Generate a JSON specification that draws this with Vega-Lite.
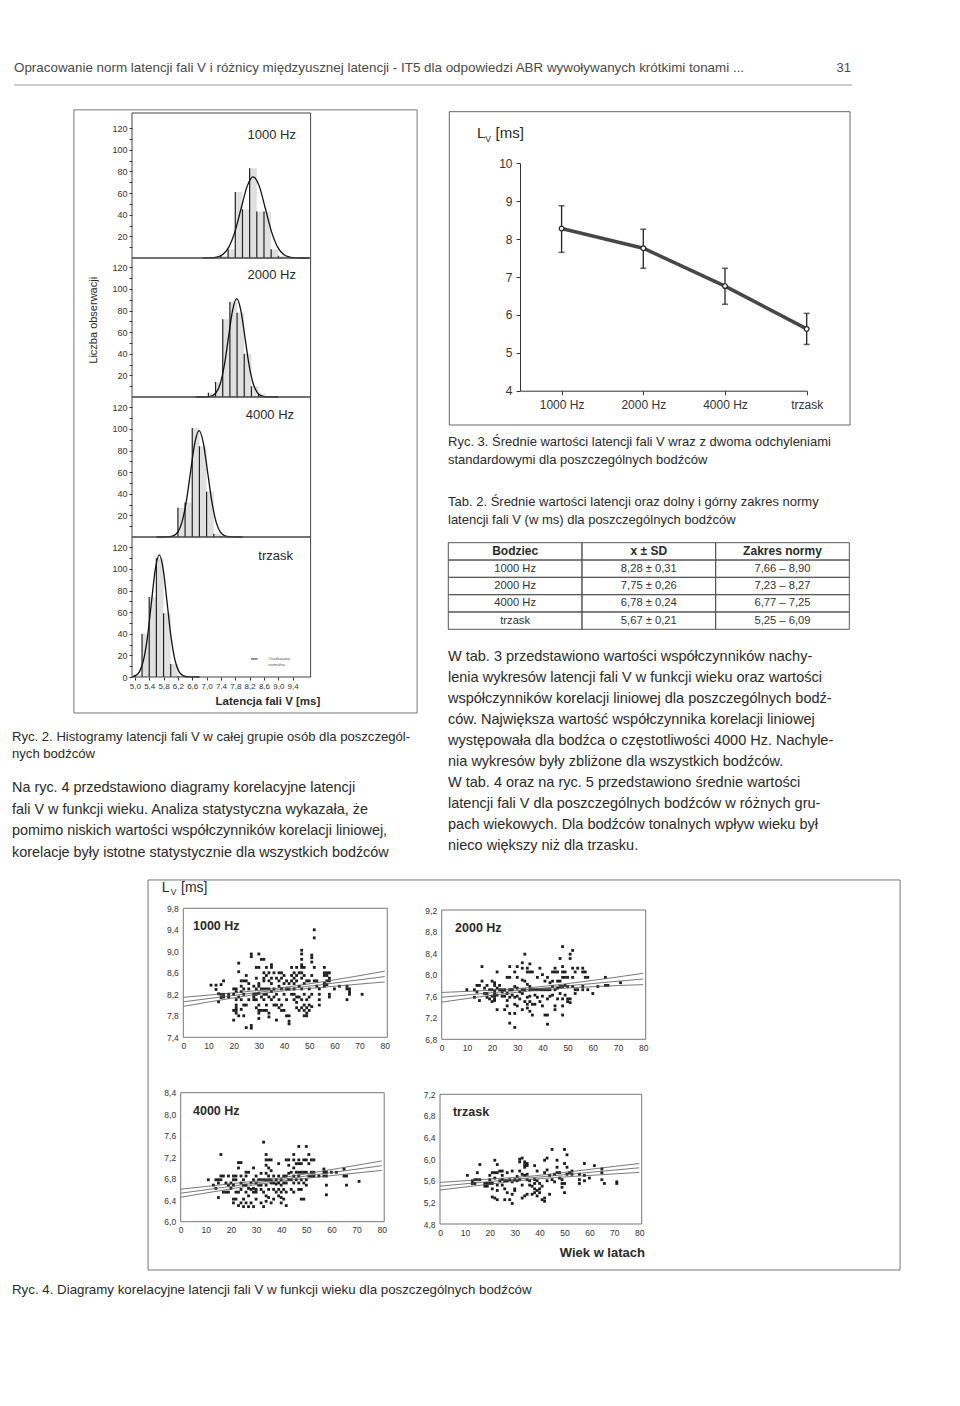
{
"$schema":"https://vega.github.io/schema/vega-lite/v6.json",
"width":960,"height":1406,"autosize":{"type":"none"},"padding":0,"background":"#ffffff",
"config":{"view":{"stroke":null},"axis":{"grid":false,"labelFont":"Liberation Sans","labelColor":"#333333","domainColor":"#333333","tickColor":"#333333","labelOverlap":false,"labelFlush":false},"text":{"font":"Liberation Sans","color":"#2a2a2a"}},
"datasets":{
"text":[
{"block":"header","line":1,"text":"Opracowanie norm latencji fali V i różnicy międzyusznej latencji - IT5 dla odpowiedzi ABR wywoływanych krótkimi tonami ..."},
{"block":"page","line":1,"text":"31"},
{"block":"cap2","line":1,"text":"Ryc. 2. Histogramy latencji fali V w całej grupie osób dla poszczegól-"},
{"block":"cap2","line":2,"text":"nych bodźców"},
{"block":"paraL","line":1,"text":"       Na ryc. 4 przedstawiono diagramy korelacyjne latencji"},
{"block":"paraL","line":2,"text":"fali V w funkcji wieku. Analiza statystyczna wykazała, że"},
{"block":"paraL","line":3,"text":"pomimo niskich wartości współczynników korelacji liniowej,"},
{"block":"paraL","line":4,"text":"korelacje były istotne statystycznie dla wszystkich bodźców"},
{"block":"cap3","line":1,"text":"Ryc. 3. Średnie wartości latencji fali V wraz z dwoma odchyleniami"},
{"block":"cap3","line":2,"text":"standardowymi dla poszczególnych bodźców"},
{"block":"tab2","line":1,"text":"Tab. 2. Średnie wartości latencji oraz dolny i górny zakres normy"},
{"block":"tab2","line":2,"text":"latencji fali V (w ms) dla poszczególnych bodźców"},
{"block":"paraR","line":1,"text":" W tab. 3 przedstawiono wartości współczynników nachy-"},
{"block":"paraR","line":2,"text":"lenia wykresów latencji fali V w funkcji wieku oraz wartości"},
{"block":"paraR","line":3,"text":"współczynników korelacji liniowej dla poszczególnych bodź-"},
{"block":"paraR","line":4,"text":"ców. Największa wartość współczynnika korelacji liniowej"},
{"block":"paraR","line":5,"text":"występowała dla bodźca o częstotliwości 4000 Hz. Nachyle-"},
{"block":"paraR","line":6,"text":"nia wykresów były zbliżone dla wszystkich bodźców."},
{"block":"paraR","line":7,"text":" W tab. 4 oraz na ryc. 5 przedstawiono średnie wartości"},
{"block":"paraR","line":8,"text":"latencji fali V dla poszczególnych bodźców w różnych gru-"},
{"block":"paraR","line":9,"text":"pach wiekowych. Dla bodźców tonalnych wpływ wieku był"},
{"block":"paraR","line":10,"text":"nieco większy niż dla trzasku."},
{"block":"cap4","line":1,"text":"Ryc. 4. Diagramy korelacyjne latencji fali V w funkcji wieku dla poszczególnych bodźców"}
],
"h1000":[{"lat":7.4,"lat2":7.6,"n":2},{"lat":7.6,"lat2":7.8,"n":8},{"lat":7.8,"lat2":8.0,"n":61},{"lat":8.0,"lat2":8.2,"n":45},{"lat":8.2,"lat2":8.4,"n":83},{"lat":8.4,"lat2":8.6,"n":43},{"lat":8.6,"lat2":8.8,"n":43},{"lat":8.8,"lat2":9.0,"n":8},{"lat":9.0,"lat2":9.2,"n":2}],
"h2000":[{"lat":6.65,"lat2":6.85,"n":1},{"lat":7.05,"lat2":7.25,"n":4},{"lat":7.25,"lat2":7.45,"n":14},{"lat":7.45,"lat2":7.65,"n":72},{"lat":7.65,"lat2":7.85,"n":88},{"lat":7.85,"lat2":8.05,"n":78},{"lat":8.05,"lat2":8.25,"n":40},{"lat":8.25,"lat2":8.45,"n":10},{"lat":8.45,"lat2":8.65,"n":3}],
"h4000":[{"lat":6.0,"lat2":6.2,"n":1},{"lat":6.2,"lat2":6.4,"n":27},{"lat":6.4,"lat2":6.6,"n":32},{"lat":6.6,"lat2":6.8,"n":101},{"lat":6.8,"lat2":7.0,"n":84},{"lat":7.0,"lat2":7.2,"n":42},{"lat":7.2,"lat2":7.4,"n":3},{"lat":7.4,"lat2":7.6,"n":1}],
"htrzask":[{"lat":5.0,"lat2":5.2,"n":2},{"lat":5.2,"lat2":5.4,"n":40},{"lat":5.4,"lat2":5.6,"n":74},{"lat":5.6,"lat2":5.8,"n":110},{"lat":5.8,"lat2":6.0,"n":59},{"lat":6.0,"lat2":6.2,"n":12},{"lat":6.2,"lat2":6.4,"n":1}],
"c1000":[{"lat":6.9,"n":0},{"lat":6.94,"n":0.02},{"lat":7.11,"n":0.17},{"lat":7.28,"n":0.83},{"lat":7.45,"n":3.3},{"lat":7.62,"n":10.1},{"lat":7.79,"n":24.4},{"lat":7.96,"n":45.5},{"lat":8.13,"n":66.2},{"lat":8.30,"n":75},{"lat":8.47,"n":66.2},{"lat":8.64,"n":45.5},{"lat":8.81,"n":24.4},{"lat":8.98,"n":10.1},{"lat":9.15,"n":3.3},{"lat":9.32,"n":0.83},{"lat":9.49,"n":0.17},{"lat":9.66,"n":0.02},{"lat":9.85,"n":0}],
"c2000":[{"lat":6.7,"n":0},{"lat":6.92,"n":0.03},{"lat":7.035,"n":0.2},{"lat":7.15,"n":1.0},{"lat":7.265,"n":4.0},{"lat":7.38,"n":12.3},{"lat":7.495,"n":29.5},{"lat":7.61,"n":55.2},{"lat":7.725,"n":80.3},{"lat":7.84,"n":91},{"lat":7.955,"n":80.3},{"lat":8.07,"n":55.2},{"lat":8.185,"n":29.5},{"lat":8.30,"n":12.3},{"lat":8.415,"n":4.0},{"lat":8.53,"n":1.0},{"lat":8.645,"n":0.2},{"lat":8.76,"n":0.03},{"lat":9.0,"n":0}],
"c4000":[{"lat":5.6,"n":0},{"lat":5.83,"n":0.03},{"lat":5.95,"n":0.22},{"lat":6.07,"n":1.1},{"lat":6.19,"n":4.3},{"lat":6.31,"n":13.3},{"lat":6.43,"n":32.0},{"lat":6.55,"n":59.7},{"lat":6.67,"n":86.9},{"lat":6.79,"n":98.5},{"lat":6.91,"n":86.9},{"lat":7.03,"n":59.7},{"lat":7.15,"n":32.0},{"lat":7.27,"n":13.3},{"lat":7.39,"n":4.3},{"lat":7.51,"n":1.1},{"lat":7.63,"n":0.22},{"lat":7.75,"n":0.03},{"lat":8.0,"n":0}],
"ctrzask":[{"lat":4.92,"n":0.2},{"lat":5.02,"n":1.25},{"lat":5.13,"n":5.0},{"lat":5.24,"n":15.3},{"lat":5.35,"n":36.7},{"lat":5.46,"n":68.5},{"lat":5.57,"n":99.7},{"lat":5.68,"n":113},{"lat":5.79,"n":99.7},{"lat":5.90,"n":68.5},{"lat":6.01,"n":36.7},{"lat":6.12,"n":15.3},{"lat":6.23,"n":5.0},{"lat":6.34,"n":1.25},{"lat":6.45,"n":0.25},{"lat":6.56,"n":0.03},{"lat":6.8,"n":0}],
"latency":[{"bodziec":"1000 Hz","mean":8.28,"lo":7.65,"hi":8.88},{"bodziec":"2000 Hz","mean":7.76,"lo":7.23,"hi":8.26},{"bodziec":"4000 Hz","mean":6.76,"lo":6.28,"hi":7.23},{"bodziec":"trzask","mean":5.63,"lo":5.22,"hi":6.04}],
"table":[
{"row":0,"col":"c1","text":"Bodziec"},{"row":0,"col":"c2","text":"x ± SD"},{"row":0,"col":"c3","text":"Zakres normy"},
{"row":1,"col":"c1","text":"1000 Hz"},{"row":1,"col":"c2","text":"8,28 ± 0,31"},{"row":1,"col":"c3","text":"7,66 – 8,90"},
{"row":2,"col":"c1","text":"2000 Hz"},{"row":2,"col":"c2","text":"7,75 ± 0,26"},{"row":2,"col":"c3","text":"7,23 – 8,27"},
{"row":3,"col":"c1","text":"4000 Hz"},{"row":3,"col":"c2","text":"6,78 ± 0,24"},{"row":3,"col":"c3","text":"6,77 – 7,25"},
{"row":4,"col":"c1","text":"trzask"},{"row":4,"col":"c2","text":"5,67 ± 0,21"},{"row":4,"col":"c3","text":"5,25 – 6,09"}
],
"f1000":[{"band":"mid","age":0,"lat":8.06},{"band":"mid","age":20,"lat":8.18},{"band":"mid","age":37,"lat":8.28},{"band":"mid","age":55,"lat":8.38},{"band":"mid","age":80,"lat":8.53},{"band":"hi","age":0,"lat":8.145},{"band":"hi","age":20,"lat":8.227},{"band":"hi","age":37,"lat":8.31},{"band":"hi","age":55,"lat":8.43},{"band":"hi","age":80,"lat":8.63},{"band":"lo","age":0,"lat":7.975},{"band":"lo","age":20,"lat":8.133},{"band":"lo","age":37,"lat":8.25},{"band":"lo","age":55,"lat":8.33},{"band":"lo","age":80,"lat":8.43}],
"f2000":[{"band":"mid","age":0,"lat":7.58},{"band":"mid","age":20,"lat":7.665},{"band":"mid","age":37,"lat":7.737},{"band":"mid","age":55,"lat":7.814},{"band":"mid","age":80,"lat":7.92},{"band":"hi","age":0,"lat":7.67},{"band":"hi","age":20,"lat":7.712},{"band":"hi","age":37,"lat":7.767},{"band":"hi","age":55,"lat":7.863},{"band":"hi","age":80,"lat":8.025},{"band":"lo","age":0,"lat":7.49},{"band":"lo","age":20,"lat":7.618},{"band":"lo","age":37,"lat":7.707},{"band":"lo","age":55,"lat":7.765},{"band":"lo","age":80,"lat":7.815}],
"f4000":[{"band":"mid","age":0,"lat":6.53},{"band":"mid","age":20,"lat":6.658},{"band":"mid","age":37,"lat":6.767},{"band":"mid","age":55,"lat":6.882},{"band":"mid","age":80,"lat":7.042},{"band":"hi","age":0,"lat":6.605},{"band":"hi","age":20,"lat":6.705},{"band":"hi","age":37,"lat":6.797},{"band":"hi","age":55,"lat":6.931},{"band":"hi","age":80,"lat":7.13},{"band":"lo","age":0,"lat":6.455},{"band":"lo","age":20,"lat":6.611},{"band":"lo","age":37,"lat":6.737},{"band":"lo","age":55,"lat":6.833},{"band":"lo","age":80,"lat":6.955}],
"ftrzask":[{"band":"mid","age":0,"lat":5.50},{"band":"mid","age":20,"lat":5.585},{"band":"mid","age":37,"lat":5.657},{"band":"mid","age":55,"lat":5.734},{"band":"mid","age":80,"lat":5.84},{"band":"hi","age":0,"lat":5.57},{"band":"hi","age":20,"lat":5.632},{"band":"hi","age":37,"lat":5.687},{"band":"hi","age":55,"lat":5.783},{"band":"hi","age":80,"lat":5.92},{"band":"lo","age":0,"lat":5.43},{"band":"lo","age":20,"lat":5.538},{"band":"lo","age":37,"lat":5.627},{"band":"lo","age":55,"lat":5.685},{"band":"lo","age":80,"lat":5.755}],
"s1000":[{"age":11,"lat":8.37},{"age":13,"lat":8.37},{"age":13,"lat":8.29},{"age":14,"lat":8.21},{"age":14,"lat":8.06},{"age":15,"lat":8.38},{"age":15,"lat":8.2},{"age":15,"lat":8.14},{"age":16,"lat":8.45},{"age":16,"lat":8.2},{"age":16,"lat":8.15},{"age":18,"lat":8.2},{"age":18,"lat":8.15},{"age":20,"lat":8.3},{"age":20,"lat":8.2},{"age":20,"lat":7.9},{"age":20,"lat":7.72},{"age":21,"lat":8.3},{"age":21,"lat":8.25},{"age":21,"lat":8.1},{"age":21,"lat":8.0},{"age":21,"lat":7.95},{"age":21,"lat":7.9},{"age":21,"lat":7.85},{"age":22,"lat":8.78},{"age":22,"lat":8.62},{"age":22,"lat":8.15},{"age":22,"lat":7.8},{"age":23,"lat":8.45},{"age":23,"lat":8.35},{"age":23,"lat":8.25},{"age":23,"lat":8.1},{"age":23,"lat":7.92},{"age":24,"lat":8.45},{"age":24,"lat":8.3},{"age":24,"lat":8.2},{"age":24,"lat":8.0},{"age":24,"lat":7.8},{"age":25,"lat":8.55},{"age":25,"lat":8.45},{"age":25,"lat":8.0},{"age":25,"lat":7.58},{"age":26,"lat":8.4},{"age":26,"lat":8.3},{"age":26,"lat":8.1},{"age":27,"lat":8.95},{"age":27,"lat":8.9},{"age":27,"lat":7.62},{"age":27,"lat":7.57},{"age":28,"lat":8.35},{"age":28,"lat":8.2},{"age":28,"lat":8.15},{"age":28,"lat":8.1},{"age":29,"lat":8.7},{"age":29,"lat":8.5},{"age":29,"lat":8.3},{"age":29,"lat":8.2},{"age":29,"lat":8.1},{"age":29,"lat":7.95},{"age":30,"lat":8.95},{"age":30,"lat":8.7},{"age":30,"lat":8.4},{"age":30,"lat":8.35},{"age":30,"lat":8.22},{"age":30,"lat":8.0},{"age":30,"lat":7.9},{"age":30,"lat":7.85},{"age":30,"lat":7.75},{"age":31,"lat":8.85},{"age":31,"lat":8.3},{"age":31,"lat":8.15},{"age":31,"lat":7.9},{"age":32,"lat":8.85},{"age":32,"lat":8.6},{"age":32,"lat":8.5},{"age":32,"lat":8.45},{"age":32,"lat":8.3},{"age":32,"lat":8.2},{"age":32,"lat":8.1},{"age":32,"lat":7.9},{"age":33,"lat":8.7},{"age":33,"lat":8.55},{"age":33,"lat":8.3},{"age":33,"lat":8.2},{"age":33,"lat":8.0},{"age":33,"lat":7.9},{"age":34,"lat":8.6},{"age":34,"lat":8.45},{"age":34,"lat":8.3},{"age":34,"lat":8.15},{"age":34,"lat":7.85},{"age":34,"lat":7.78},{"age":35,"lat":8.75},{"age":35,"lat":8.7},{"age":35,"lat":8.5},{"age":35,"lat":8.4},{"age":35,"lat":8.25},{"age":35,"lat":8.1},{"age":36,"lat":8.6},{"age":36,"lat":8.3},{"age":36,"lat":8.15},{"age":36,"lat":8.0},{"age":37,"lat":8.5},{"age":37,"lat":8.2},{"age":37,"lat":8.0},{"age":37,"lat":7.72},{"age":38,"lat":8.6},{"age":38,"lat":8.45},{"age":38,"lat":8.35},{"age":38,"lat":8.1},{"age":38,"lat":7.95},{"age":39,"lat":8.6},{"age":39,"lat":8.5},{"age":39,"lat":8.3},{"age":39,"lat":8.0},{"age":39,"lat":7.9},{"age":40,"lat":8.55},{"age":40,"lat":8.4},{"age":40,"lat":8.2},{"age":40,"lat":7.9},{"age":41,"lat":8.45},{"age":41,"lat":8.3},{"age":41,"lat":8.1},{"age":41,"lat":7.8},{"age":42,"lat":8.4},{"age":42,"lat":8.3},{"age":42,"lat":7.8},{"age":42,"lat":7.7},{"age":42,"lat":7.65},{"age":43,"lat":8.7},{"age":43,"lat":8.55},{"age":43,"lat":8.45},{"age":43,"lat":8.2},{"age":44,"lat":8.6},{"age":44,"lat":8.5},{"age":44,"lat":8.4},{"age":44,"lat":8.3},{"age":44,"lat":8.2},{"age":44,"lat":8.1},{"age":45,"lat":8.7},{"age":45,"lat":8.55},{"age":45,"lat":8.45},{"age":45,"lat":8.15},{"age":45,"lat":8.05},{"age":45,"lat":7.95},{"age":46,"lat":8.6},{"age":46,"lat":8.35},{"age":46,"lat":8.15},{"age":46,"lat":7.9},{"age":47,"lat":9.02},{"age":47,"lat":8.95},{"age":47,"lat":8.85},{"age":47,"lat":8.75},{"age":47,"lat":8.7},{"age":47,"lat":8.6},{"age":47,"lat":8.5},{"age":47,"lat":8.3},{"age":47,"lat":8.1},{"age":47,"lat":7.95},{"age":48,"lat":8.7},{"age":48,"lat":8.55},{"age":48,"lat":8.4},{"age":48,"lat":8.2},{"age":48,"lat":8.0},{"age":48,"lat":7.9},{"age":48,"lat":7.8},{"age":49,"lat":8.45},{"age":49,"lat":8.1},{"age":49,"lat":7.95},{"age":49,"lat":7.85},{"age":49,"lat":7.8},{"age":50,"lat":8.45},{"age":50,"lat":8.3},{"age":50,"lat":8.15},{"age":50,"lat":8.0},{"age":50,"lat":7.9},{"age":51,"lat":8.93},{"age":51,"lat":8.88},{"age":51,"lat":8.8},{"age":51,"lat":8.55},{"age":51,"lat":8.2},{"age":51,"lat":7.97},{"age":52,"lat":9.4},{"age":52,"lat":9.25},{"age":52,"lat":8.7},{"age":52,"lat":8.45},{"age":53,"lat":8.45},{"age":53,"lat":8.35},{"age":54,"lat":8.3},{"age":54,"lat":8.2},{"age":54,"lat":8.1},{"age":54,"lat":8.0},{"age":56,"lat":8.7},{"age":56,"lat":8.6},{"age":56,"lat":8.55},{"age":56,"lat":8.4},{"age":56,"lat":8.35},{"age":57,"lat":8.6},{"age":57,"lat":8.55},{"age":57,"lat":8.45},{"age":57,"lat":8.38},{"age":58,"lat":8.6},{"age":58,"lat":8.5},{"age":58,"lat":8.45},{"age":58,"lat":8.2},{"age":58,"lat":8.15},{"age":60,"lat":8.3},{"age":62,"lat":8.35},{"age":65,"lat":8.35},{"age":65,"lat":8.3},{"age":65,"lat":8.1},{"age":66,"lat":8.3},{"age":66,"lat":8.25},{"age":66,"lat":8.2},{"age":71,"lat":8.2}],
"s2000":[{"age":10,"lat":7.72},{"age":13,"lat":7.72},{"age":13,"lat":7.58},{"age":14,"lat":7.8},{"age":14,"lat":7.68},{"age":15,"lat":7.8},{"age":15,"lat":7.52},{"age":16,"lat":8.15},{"age":16,"lat":7.88},{"age":17,"lat":7.75},{"age":17,"lat":7.65},{"age":18,"lat":7.8},{"age":18,"lat":7.65},{"age":18,"lat":7.58},{"age":19,"lat":7.72},{"age":19,"lat":7.55},{"age":20,"lat":7.88},{"age":20,"lat":7.72},{"age":20,"lat":7.6},{"age":20,"lat":7.5},{"age":21,"lat":7.85},{"age":21,"lat":7.8},{"age":21,"lat":7.7},{"age":21,"lat":7.65},{"age":21,"lat":7.6},{"age":21,"lat":7.55},{"age":21,"lat":7.52},{"age":22,"lat":8.05},{"age":22,"lat":7.75},{"age":22,"lat":7.62},{"age":22,"lat":7.35},{"age":23,"lat":7.8},{"age":23,"lat":7.72},{"age":24,"lat":7.72},{"age":24,"lat":7.68},{"age":24,"lat":7.6},{"age":25,"lat":7.72},{"age":25,"lat":7.6},{"age":25,"lat":7.35},{"age":26,"lat":7.95},{"age":26,"lat":7.65},{"age":26,"lat":7.52},{"age":26,"lat":7.42},{"age":27,"lat":8.15},{"age":27,"lat":7.95},{"age":27,"lat":7.72},{"age":27,"lat":7.58},{"age":27,"lat":7.28},{"age":27,"lat":7.1},{"age":28,"lat":7.72},{"age":28,"lat":7.62},{"age":29,"lat":8.05},{"age":29,"lat":7.78},{"age":29,"lat":7.58},{"age":29,"lat":7.45},{"age":29,"lat":7.28},{"age":29,"lat":7.02},{"age":30,"lat":8.15},{"age":30,"lat":7.95},{"age":30,"lat":7.75},{"age":30,"lat":7.6},{"age":30,"lat":7.42},{"age":31,"lat":7.68},{"age":31,"lat":7.55},{"age":32,"lat":8.22},{"age":32,"lat":8.12},{"age":32,"lat":7.9},{"age":32,"lat":7.72},{"age":32,"lat":7.65},{"age":32,"lat":7.35},{"age":33,"lat":8.38},{"age":33,"lat":7.88},{"age":33,"lat":7.72},{"age":33,"lat":7.5},{"age":34,"lat":8.12},{"age":34,"lat":8.05},{"age":34,"lat":7.82},{"age":34,"lat":7.58},{"age":34,"lat":7.45},{"age":34,"lat":7.38},{"age":35,"lat":8.2},{"age":35,"lat":8.05},{"age":35,"lat":7.78},{"age":35,"lat":7.72},{"age":35,"lat":7.6},{"age":35,"lat":7.5},{"age":35,"lat":7.32},{"age":36,"lat":8.05},{"age":36,"lat":7.72},{"age":36,"lat":7.45},{"age":36,"lat":7.25},{"age":37,"lat":7.72},{"age":37,"lat":7.62},{"age":37,"lat":7.45},{"age":38,"lat":7.95},{"age":38,"lat":7.72},{"age":38,"lat":7.58},{"age":39,"lat":8.12},{"age":39,"lat":7.72},{"age":39,"lat":7.5},{"age":40,"lat":8.0},{"age":40,"lat":7.72},{"age":40,"lat":7.6},{"age":40,"lat":7.42},{"age":41,"lat":7.88},{"age":41,"lat":7.72},{"age":41,"lat":7.25},{"age":42,"lat":7.95},{"age":42,"lat":7.72},{"age":42,"lat":7.55},{"age":42,"lat":7.25},{"age":42,"lat":7.08},{"age":43,"lat":7.85},{"age":43,"lat":7.72},{"age":43,"lat":7.6},{"age":44,"lat":8.05},{"age":44,"lat":7.88},{"age":44,"lat":7.78},{"age":44,"lat":7.62},{"age":45,"lat":8.12},{"age":45,"lat":8.05},{"age":45,"lat":7.72},{"age":45,"lat":7.42},{"age":45,"lat":7.35},{"age":46,"lat":8.05},{"age":46,"lat":7.88},{"age":46,"lat":7.75},{"age":46,"lat":7.55},{"age":47,"lat":8.3},{"age":47,"lat":7.88},{"age":47,"lat":7.78},{"age":47,"lat":7.65},{"age":48,"lat":8.52},{"age":48,"lat":8.15},{"age":48,"lat":8.05},{"age":48,"lat":7.95},{"age":48,"lat":7.78},{"age":48,"lat":7.55},{"age":48,"lat":7.42},{"age":48,"lat":7.25},{"age":49,"lat":8.05},{"age":49,"lat":7.95},{"age":49,"lat":7.8},{"age":49,"lat":7.62},{"age":50,"lat":7.95},{"age":50,"lat":7.78},{"age":50,"lat":7.55},{"age":50,"lat":7.5},{"age":51,"lat":8.38},{"age":51,"lat":8.3},{"age":51,"lat":7.55},{"age":51,"lat":7.48},{"age":52,"lat":8.45},{"age":52,"lat":8.12},{"age":52,"lat":7.95},{"age":52,"lat":7.78},{"age":53,"lat":8.05},{"age":53,"lat":7.72},{"age":53,"lat":7.65},{"age":54,"lat":8.12},{"age":54,"lat":7.72},{"age":56,"lat":8.12},{"age":56,"lat":8.05},{"age":56,"lat":7.78},{"age":56,"lat":7.72},{"age":57,"lat":8.05},{"age":57,"lat":7.95},{"age":58,"lat":7.95},{"age":58,"lat":7.72},{"age":60,"lat":7.65},{"age":62,"lat":7.78},{"age":65,"lat":7.95},{"age":65,"lat":7.8},{"age":66,"lat":7.8},{"age":71,"lat":7.85}],
"s4000":[{"age":11,"lat":6.78},{"age":13,"lat":6.68},{"age":14,"lat":6.78},{"age":14,"lat":6.62},{"age":15,"lat":6.78},{"age":15,"lat":6.72},{"age":15,"lat":6.45},{"age":16,"lat":7.25},{"age":16,"lat":6.85},{"age":16,"lat":6.78},{"age":17,"lat":6.85},{"age":17,"lat":6.55},{"age":18,"lat":6.72},{"age":18,"lat":6.55},{"age":19,"lat":6.85},{"age":19,"lat":6.68},{"age":19,"lat":6.55},{"age":20,"lat":6.72},{"age":20,"lat":6.62},{"age":21,"lat":6.85},{"age":21,"lat":6.78},{"age":21,"lat":6.68},{"age":21,"lat":6.42},{"age":21,"lat":6.35},{"age":22,"lat":6.85},{"age":22,"lat":6.78},{"age":22,"lat":6.55},{"age":22,"lat":6.42},{"age":23,"lat":7.1},{"age":23,"lat":7.0},{"age":23,"lat":6.55},{"age":23,"lat":6.3},{"age":24,"lat":7.1},{"age":24,"lat":6.85},{"age":24,"lat":6.72},{"age":24,"lat":6.6},{"age":24,"lat":6.35},{"age":25,"lat":6.78},{"age":25,"lat":6.68},{"age":25,"lat":6.42},{"age":25,"lat":6.28},{"age":26,"lat":6.92},{"age":26,"lat":6.85},{"age":26,"lat":6.68},{"age":26,"lat":6.55},{"age":26,"lat":6.35},{"age":27,"lat":6.92},{"age":27,"lat":6.62},{"age":27,"lat":6.48},{"age":27,"lat":6.28},{"age":28,"lat":6.72},{"age":28,"lat":6.6},{"age":28,"lat":6.35},{"age":29,"lat":7.0},{"age":29,"lat":6.78},{"age":29,"lat":6.62},{"age":29,"lat":6.55},{"age":29,"lat":6.28},{"age":30,"lat":6.85},{"age":30,"lat":6.72},{"age":30,"lat":6.6},{"age":30,"lat":6.55},{"age":30,"lat":6.42},{"age":31,"lat":6.78},{"age":31,"lat":6.68},{"age":32,"lat":6.9},{"age":32,"lat":6.78},{"age":32,"lat":6.68},{"age":32,"lat":6.6},{"age":32,"lat":6.35},{"age":33,"lat":7.48},{"age":33,"lat":6.78},{"age":33,"lat":6.55},{"age":33,"lat":6.28},{"age":34,"lat":7.25},{"age":34,"lat":7.15},{"age":34,"lat":7.05},{"age":34,"lat":6.9},{"age":34,"lat":6.78},{"age":34,"lat":6.68},{"age":34,"lat":6.48},{"age":34,"lat":6.38},{"age":35,"lat":7.15},{"age":35,"lat":7.0},{"age":35,"lat":6.85},{"age":35,"lat":6.78},{"age":35,"lat":6.6},{"age":35,"lat":6.45},{"age":36,"lat":7.15},{"age":36,"lat":6.95},{"age":36,"lat":6.78},{"age":36,"lat":6.72},{"age":36,"lat":6.35},{"age":37,"lat":6.85},{"age":37,"lat":6.72},{"age":37,"lat":6.6},{"age":37,"lat":6.42},{"age":38,"lat":6.78},{"age":38,"lat":6.7},{"age":38,"lat":6.55},{"age":39,"lat":7.08},{"age":39,"lat":6.85},{"age":39,"lat":6.72},{"age":39,"lat":6.6},{"age":39,"lat":6.48},{"age":40,"lat":6.78},{"age":40,"lat":6.68},{"age":40,"lat":6.55},{"age":40,"lat":6.45},{"age":40,"lat":6.35},{"age":41,"lat":6.85},{"age":41,"lat":6.72},{"age":41,"lat":6.6},{"age":41,"lat":6.42},{"age":42,"lat":7.15},{"age":42,"lat":6.85},{"age":42,"lat":6.72},{"age":42,"lat":6.55},{"age":42,"lat":6.3},{"age":43,"lat":7.15},{"age":43,"lat":7.05},{"age":43,"lat":6.9},{"age":43,"lat":6.78},{"age":44,"lat":6.92},{"age":44,"lat":6.78},{"age":44,"lat":6.6},{"age":45,"lat":7.25},{"age":45,"lat":7.15},{"age":45,"lat":7.0},{"age":45,"lat":6.85},{"age":45,"lat":6.72},{"age":45,"lat":6.55},{"age":46,"lat":7.08},{"age":46,"lat":6.92},{"age":46,"lat":6.78},{"age":47,"lat":7.4},{"age":47,"lat":7.15},{"age":47,"lat":7.08},{"age":47,"lat":6.92},{"age":47,"lat":6.85},{"age":47,"lat":6.72},{"age":47,"lat":6.6},{"age":48,"lat":7.08},{"age":48,"lat":6.92},{"age":48,"lat":6.78},{"age":48,"lat":6.6},{"age":48,"lat":6.42},{"age":49,"lat":7.15},{"age":49,"lat":6.92},{"age":49,"lat":6.72},{"age":49,"lat":6.42},{"age":50,"lat":7.4},{"age":50,"lat":7.15},{"age":50,"lat":6.92},{"age":50,"lat":6.78},{"age":50,"lat":6.68},{"age":51,"lat":7.25},{"age":51,"lat":7.08},{"age":51,"lat":6.85},{"age":52,"lat":7.15},{"age":52,"lat":6.92},{"age":52,"lat":6.85},{"age":53,"lat":7.15},{"age":53,"lat":6.92},{"age":53,"lat":6.85},{"age":55,"lat":6.85},{"age":57,"lat":6.98},{"age":57,"lat":6.92},{"age":57,"lat":6.85},{"age":58,"lat":6.92},{"age":58,"lat":6.85},{"age":58,"lat":6.68},{"age":58,"lat":6.5},{"age":60,"lat":6.92},{"age":62,"lat":6.92},{"age":65,"lat":6.98},{"age":65,"lat":6.85},{"age":66,"lat":6.85},{"age":66,"lat":6.68},{"age":71,"lat":6.75}],
"strzask":[{"age":11,"lat":5.7},{"age":13,"lat":5.6},{"age":13,"lat":5.55},{"age":14,"lat":5.62},{"age":14,"lat":5.55},{"age":15,"lat":5.75},{"age":15,"lat":5.62},{"age":16,"lat":5.9},{"age":16,"lat":5.62},{"age":18,"lat":5.55},{"age":18,"lat":5.5},{"age":19,"lat":5.55},{"age":19,"lat":5.5},{"age":20,"lat":5.7},{"age":20,"lat":5.62},{"age":20,"lat":5.55},{"age":21,"lat":5.75},{"age":21,"lat":5.55},{"age":21,"lat":5.45},{"age":21,"lat":5.3},{"age":22,"lat":5.98},{"age":22,"lat":5.75},{"age":22,"lat":5.65},{"age":22,"lat":5.28},{"age":23,"lat":5.9},{"age":23,"lat":5.75},{"age":23,"lat":5.52},{"age":23,"lat":5.42},{"age":23,"lat":5.25},{"age":24,"lat":5.78},{"age":24,"lat":5.6},{"age":25,"lat":5.78},{"age":25,"lat":5.7},{"age":25,"lat":5.62},{"age":25,"lat":5.52},{"age":26,"lat":5.6},{"age":26,"lat":5.45},{"age":26,"lat":5.25},{"age":27,"lat":5.75},{"age":27,"lat":5.6},{"age":27,"lat":5.38},{"age":28,"lat":5.62},{"age":28,"lat":5.25},{"age":29,"lat":5.78},{"age":29,"lat":5.58},{"age":29,"lat":5.35},{"age":29,"lat":5.18},{"age":30,"lat":5.62},{"age":30,"lat":5.45},{"age":30,"lat":5.42},{"age":31,"lat":5.68},{"age":31,"lat":5.6},{"age":32,"lat":6.0},{"age":32,"lat":5.95},{"age":32,"lat":5.78},{"age":32,"lat":5.62},{"age":33,"lat":6.02},{"age":33,"lat":5.72},{"age":33,"lat":5.52},{"age":33,"lat":5.28},{"age":34,"lat":5.95},{"age":34,"lat":5.9},{"age":34,"lat":5.85},{"age":34,"lat":5.7},{"age":34,"lat":5.32},{"age":35,"lat":5.92},{"age":35,"lat":5.88},{"age":35,"lat":5.72},{"age":35,"lat":5.62},{"age":35,"lat":5.35},{"age":36,"lat":5.6},{"age":36,"lat":5.52},{"age":37,"lat":5.5},{"age":37,"lat":5.35},{"age":38,"lat":5.88},{"age":38,"lat":5.62},{"age":38,"lat":5.55},{"age":38,"lat":5.45},{"age":38,"lat":5.38},{"age":39,"lat":5.78},{"age":39,"lat":5.6},{"age":39,"lat":5.42},{"age":39,"lat":5.32},{"age":40,"lat":5.55},{"age":40,"lat":5.45},{"age":40,"lat":5.38},{"age":41,"lat":5.5},{"age":41,"lat":5.25},{"age":42,"lat":5.98},{"age":42,"lat":5.75},{"age":42,"lat":5.28},{"age":42,"lat":5.22},{"age":43,"lat":6.02},{"age":43,"lat":5.8},{"age":43,"lat":5.6},{"age":44,"lat":5.7},{"age":44,"lat":5.35},{"age":45,"lat":6.18},{"age":45,"lat":5.62},{"age":46,"lat":5.72},{"age":46,"lat":5.58},{"age":47,"lat":5.98},{"age":47,"lat":5.85},{"age":47,"lat":5.75},{"age":48,"lat":5.75},{"age":48,"lat":5.65},{"age":49,"lat":5.62},{"age":49,"lat":5.55},{"age":49,"lat":5.48},{"age":50,"lat":6.18},{"age":50,"lat":5.92},{"age":50,"lat":5.55},{"age":50,"lat":5.38},{"age":51,"lat":6.08},{"age":51,"lat":5.85},{"age":51,"lat":5.72},{"age":52,"lat":5.75},{"age":53,"lat":5.78},{"age":53,"lat":5.72},{"age":56,"lat":5.72},{"age":56,"lat":5.62},{"age":56,"lat":5.55},{"age":58,"lat":5.92},{"age":58,"lat":5.7},{"age":58,"lat":5.6},{"age":60,"lat":5.65},{"age":62,"lat":5.88},{"age":65,"lat":5.82},{"age":65,"lat":5.75},{"age":65,"lat":5.62},{"age":66,"lat":5.55},{"age":71,"lat":5.58},{"age":71,"lat":5.55}]
},
"resolve":{"scale":{"x":"independent","y":"independent"}},
"layer":[
{"data":{"name":"text"},"transform":[{"filter":"datum.block == 'header'"}],"mark":{"type":"text","align":"left","baseline":"middle","fontSize":13.4,"color":"#4a4a4a"},"encoding":{"x":{"field":"block","type":"nominal","scale":{"type":"point","range":[14,14]},"axis":null},"y":{"field":"line","type":"ordinal","scale":{"type":"point","range":[68,68],"padding":0},"axis":null},"text":{"field":"text"}}},
{"data":{"name":"text"},"transform":[{"filter":"datum.block == 'page'"}],"mark":{"type":"text","align":"right","baseline":"middle","fontSize":13,"color":"#4a4a4a"},"encoding":{"x":{"field":"block","type":"nominal","scale":{"type":"point","range":[851,851]},"axis":null},"y":{"field":"line","type":"ordinal","scale":{"type":"point","range":[68,68],"padding":0},"axis":null},"text":{"field":"text"}}},
{"data":{"values":[{}]},"mark":{"type":"rule","color":"#9a9a9a","strokeWidth":1},"encoding":{"x":{"datum":0,"type":"quantitative","scale":{"domain":[0,1],"range":[14,852]},"axis":null},"x2":{"datum":1},"y":{"datum":0,"type":"quantitative","scale":{"domain":[0,1],"range":[85,85]},"axis":null}}},

{"layer":[
  {"data":{"name":"h1000"},"mark":{"type":"rect","fill":"#e0e0e0"},"encoding":{"x":{"field":"lat","type":"quantitative","scale":{"domain":[4.92,9.9],"range":[132,310.6],"nice":false,"zero":false},"axis":null},"x2":{"field":"lat2"},"y":{"field":"n","type":"quantitative","scale":{"domain":[0,134],"range":[258,113],"nice":false,"zero":false},"axis":{"orient":"left","offset":-132,"values":[10,20,30,40,50,60,70,80,90,100,110,120],"labelExpr":"datum.value % 20 == 0 ? datum.label : ''","labelFontSize":9,"tickSize":3,"labelPadding":2,"domain":false,"title":null}},"y2":{"datum":0}}},
  {"data":{"name":"h1000"},"mark":{"type":"rule","color":"#222222","strokeWidth":1.2},"encoding":{"x":{"field":"lat","type":"quantitative","scale":{"domain":[4.92,9.9],"range":[132,310.6],"nice":false,"zero":false},"axis":null},"y":{"field":"n","type":"quantitative","scale":{"domain":[0,134],"range":[258,113],"nice":false,"zero":false},"axis":{"orient":"left","offset":-132,"values":[10,20,30,40,50,60,70,80,90,100,110,120],"labelExpr":"datum.value % 20 == 0 ? datum.label : ''","labelFontSize":9,"tickSize":3,"labelPadding":2,"domain":false,"title":null}},"y2":{"datum":0}}},
  {"data":{"name":"c1000"},"mark":{"type":"line","interpolate":"monotone","color":"#111111","strokeWidth":1.3},"encoding":{"x":{"field":"lat","type":"quantitative","scale":{"domain":[4.92,9.9],"range":[132,310.6],"nice":false,"zero":false},"axis":null},"y":{"field":"n","type":"quantitative","scale":{"domain":[0,134],"range":[258,113],"nice":false,"zero":false},"axis":{"orient":"left","offset":-132,"values":[10,20,30,40,50,60,70,80,90,100,110,120],"labelExpr":"datum.value % 20 == 0 ? datum.label : ''","labelFontSize":9,"tickSize":3,"labelPadding":2,"domain":false,"title":null}}}},
  {"data":{"values":[{}]},"mark":{"type":"rect","fill":"#ffffff","fillOpacity":0,"stroke":"#444444","strokeWidth":1},"encoding":{"x":{"datum":4.92,"type":"quantitative","scale":{"domain":[4.92,9.9],"range":[132,310.6],"nice":false,"zero":false},"axis":null},"x2":{"datum":9.9},"y":{"datum":0,"type":"quantitative","scale":{"domain":[0,134],"range":[258,113],"nice":false,"zero":false},"axis":{"orient":"left","offset":-132,"values":[10,20,30,40,50,60,70,80,90,100,110,120],"labelExpr":"datum.value % 20 == 0 ? datum.label : ''","labelFontSize":9,"tickSize":3,"labelPadding":2,"domain":false,"title":null}},"y2":{"datum":134}}},
  {"data":{"values":[{"label":"1000 Hz"}]},"mark":{"type":"text","align":"right","baseline":"middle","fontSize":13},"encoding":{"x":{"datum":9.49,"type":"quantitative","scale":{"domain":[4.92,9.9],"range":[132,310.6],"nice":false,"zero":false},"axis":null},"y":{"datum":113.9,"type":"quantitative","scale":{"domain":[0,134],"range":[258,113],"nice":false,"zero":false},"axis":{"orient":"left","offset":-132,"values":[10,20,30,40,50,60,70,80,90,100,110,120],"labelExpr":"datum.value % 20 == 0 ? datum.label : ''","labelFontSize":9,"tickSize":3,"labelPadding":2,"domain":false,"title":null}},"text":{"field":"label"}}}
 ]},

{"layer":[
  {"data":{"name":"h2000"},"mark":{"type":"rect","fill":"#e0e0e0"},"encoding":{"x":{"field":"lat","type":"quantitative","scale":{"domain":[4.92,9.9],"range":[132,310.6],"nice":false,"zero":false},"axis":null},"x2":{"field":"lat2"},"y":{"field":"n","type":"quantitative","scale":{"domain":[0,128.7],"range":[397,258],"nice":false,"zero":false},"axis":{"orient":"left","offset":-132,"values":[10,20,30,40,50,60,70,80,90,100,110,120],"labelExpr":"datum.value % 20 == 0 ? datum.label : ''","labelFontSize":9,"tickSize":3,"labelPadding":2,"domain":false,"title":null}},"y2":{"datum":0}}},
  {"data":{"name":"h2000"},"mark":{"type":"rule","color":"#222222","strokeWidth":1.2},"encoding":{"x":{"field":"lat","type":"quantitative","scale":{"domain":[4.92,9.9],"range":[132,310.6],"nice":false,"zero":false},"axis":null},"y":{"field":"n","type":"quantitative","scale":{"domain":[0,128.7],"range":[397,258],"nice":false,"zero":false},"axis":{"orient":"left","offset":-132,"values":[10,20,30,40,50,60,70,80,90,100,110,120],"labelExpr":"datum.value % 20 == 0 ? datum.label : ''","labelFontSize":9,"tickSize":3,"labelPadding":2,"domain":false,"title":null}},"y2":{"datum":0}}},
  {"data":{"name":"c2000"},"mark":{"type":"line","interpolate":"monotone","color":"#111111","strokeWidth":1.3},"encoding":{"x":{"field":"lat","type":"quantitative","scale":{"domain":[4.92,9.9],"range":[132,310.6],"nice":false,"zero":false},"axis":null},"y":{"field":"n","type":"quantitative","scale":{"domain":[0,128.7],"range":[397,258],"nice":false,"zero":false},"axis":{"orient":"left","offset":-132,"values":[10,20,30,40,50,60,70,80,90,100,110,120],"labelExpr":"datum.value % 20 == 0 ? datum.label : ''","labelFontSize":9,"tickSize":3,"labelPadding":2,"domain":false,"title":null}}}},
  {"data":{"values":[{}]},"mark":{"type":"rect","fill":"#ffffff","fillOpacity":0,"stroke":"#444444","strokeWidth":1},"encoding":{"x":{"datum":4.92,"type":"quantitative","scale":{"domain":[4.92,9.9],"range":[132,310.6],"nice":false,"zero":false},"axis":null},"x2":{"datum":9.9},"y":{"datum":0,"type":"quantitative","scale":{"domain":[0,128.7],"range":[397,258],"nice":false,"zero":false},"axis":{"orient":"left","offset":-132,"values":[10,20,30,40,50,60,70,80,90,100,110,120],"labelExpr":"datum.value % 20 == 0 ? datum.label : ''","labelFontSize":9,"tickSize":3,"labelPadding":2,"domain":false,"title":null}},"y2":{"datum":128.7}}},
  {"data":{"values":[{"label":"2000 Hz"}]},"mark":{"type":"text","align":"right","baseline":"middle","fontSize":13},"encoding":{"x":{"datum":9.49,"type":"quantitative","scale":{"domain":[4.92,9.9],"range":[132,310.6],"nice":false,"zero":false},"axis":null},"y":{"datum":113,"type":"quantitative","scale":{"domain":[0,128.7],"range":[397,258],"nice":false,"zero":false},"axis":{"orient":"left","offset":-132,"values":[10,20,30,40,50,60,70,80,90,100,110,120],"labelExpr":"datum.value % 20 == 0 ? datum.label : ''","labelFontSize":9,"tickSize":3,"labelPadding":2,"domain":false,"title":null}},"text":{"field":"label"}}},
  {"data":{"values":[{"label":"Liczba obserwacji"}]},"mark":{"type":"text","align":"center","baseline":"middle","fontSize":11,"angle":270},"encoding":{"x":{"datum":3.86,"type":"quantitative","scale":{"domain":[4.92,9.9],"range":[132,310.6],"nice":false,"zero":false},"axis":null},"y":{"datum":71,"type":"quantitative","scale":{"domain":[0,128.7],"range":[397,258],"nice":false,"zero":false},"axis":{"orient":"left","offset":-132,"values":[10,20,30,40,50,60,70,80,90,100,110,120],"labelExpr":"datum.value % 20 == 0 ? datum.label : ''","labelFontSize":9,"tickSize":3,"labelPadding":2,"domain":false,"title":null}},"text":{"field":"label"}}}
 ]},

{"layer":[
  {"data":{"name":"h4000"},"mark":{"type":"rect","fill":"#e0e0e0"},"encoding":{"x":{"field":"lat","type":"quantitative","scale":{"domain":[4.92,9.9],"range":[132,310.6],"nice":false,"zero":false},"axis":null},"x2":{"field":"lat2"},"y":{"field":"n","type":"quantitative","scale":{"domain":[0,129.6],"range":[537,397],"nice":false,"zero":false},"axis":{"orient":"left","offset":-132,"values":[10,20,30,40,50,60,70,80,90,100,110,120],"labelExpr":"datum.value % 20 == 0 ? datum.label : ''","labelFontSize":9,"tickSize":3,"labelPadding":2,"domain":false,"title":null}},"y2":{"datum":0}}},
  {"data":{"name":"h4000"},"mark":{"type":"rule","color":"#222222","strokeWidth":1.2},"encoding":{"x":{"field":"lat","type":"quantitative","scale":{"domain":[4.92,9.9],"range":[132,310.6],"nice":false,"zero":false},"axis":null},"y":{"field":"n","type":"quantitative","scale":{"domain":[0,129.6],"range":[537,397],"nice":false,"zero":false},"axis":{"orient":"left","offset":-132,"values":[10,20,30,40,50,60,70,80,90,100,110,120],"labelExpr":"datum.value % 20 == 0 ? datum.label : ''","labelFontSize":9,"tickSize":3,"labelPadding":2,"domain":false,"title":null}},"y2":{"datum":0}}},
  {"data":{"name":"c4000"},"mark":{"type":"line","interpolate":"monotone","color":"#111111","strokeWidth":1.3},"encoding":{"x":{"field":"lat","type":"quantitative","scale":{"domain":[4.92,9.9],"range":[132,310.6],"nice":false,"zero":false},"axis":null},"y":{"field":"n","type":"quantitative","scale":{"domain":[0,129.6],"range":[537,397],"nice":false,"zero":false},"axis":{"orient":"left","offset":-132,"values":[10,20,30,40,50,60,70,80,90,100,110,120],"labelExpr":"datum.value % 20 == 0 ? datum.label : ''","labelFontSize":9,"tickSize":3,"labelPadding":2,"domain":false,"title":null}}}},
  {"data":{"values":[{}]},"mark":{"type":"rect","fill":"#ffffff","fillOpacity":0,"stroke":"#444444","strokeWidth":1},"encoding":{"x":{"datum":4.92,"type":"quantitative","scale":{"domain":[4.92,9.9],"range":[132,310.6],"nice":false,"zero":false},"axis":null},"x2":{"datum":9.9},"y":{"datum":0,"type":"quantitative","scale":{"domain":[0,129.6],"range":[537,397],"nice":false,"zero":false},"axis":{"orient":"left","offset":-132,"values":[10,20,30,40,50,60,70,80,90,100,110,120],"labelExpr":"datum.value % 20 == 0 ? datum.label : ''","labelFontSize":9,"tickSize":3,"labelPadding":2,"domain":false,"title":null}},"y2":{"datum":129.6}}},
  {"data":{"values":[{"label":"4000 Hz"}]},"mark":{"type":"text","align":"right","baseline":"middle","fontSize":13},"encoding":{"x":{"datum":9.44,"type":"quantitative","scale":{"domain":[4.92,9.9],"range":[132,310.6],"nice":false,"zero":false},"axis":null},"y":{"datum":113,"type":"quantitative","scale":{"domain":[0,129.6],"range":[537,397],"nice":false,"zero":false},"axis":{"orient":"left","offset":-132,"values":[10,20,30,40,50,60,70,80,90,100,110,120],"labelExpr":"datum.value % 20 == 0 ? datum.label : ''","labelFontSize":9,"tickSize":3,"labelPadding":2,"domain":false,"title":null}},"text":{"field":"label"}}}
 ]},

{"layer":[
  {"data":{"name":"htrzask"},"mark":{"type":"rect","fill":"#e0e0e0"},"encoding":{"x":{"field":"lat","type":"quantitative","scale":{"domain":[4.92,9.9],"range":[132,310.6],"nice":false,"zero":false},"axis":{"orient":"bottom","offset":-729,"values":[5.0,5.4,5.8,6.2,6.6,7.0,7.4,7.8,8.2,8.6,9.0,9.4],"labelExpr":"replace(format(datum.value, '.1f'), '.', ',')","labelFontSize":8,"tickSize":3,"labelPadding":2,"domain":false,"title":null}},"x2":{"field":"lat2"},"y":{"field":"n","type":"quantitative","scale":{"domain":[0,129.6],"range":[677,537],"nice":false,"zero":false},"axis":{"orient":"left","offset":-132,"values":[0,10,20,30,40,50,60,70,80,90,100,110,120],"labelExpr":"datum.value % 20 == 0 ? datum.label : ''","labelFontSize":9,"tickSize":3,"labelPadding":2,"domain":false,"title":null}},"y2":{"datum":0}}},
  {"data":{"name":"htrzask"},"mark":{"type":"rule","color":"#222222","strokeWidth":1.2},"encoding":{"x":{"field":"lat","type":"quantitative","scale":{"domain":[4.92,9.9],"range":[132,310.6],"nice":false,"zero":false},"axis":{"orient":"bottom","offset":-729,"values":[5.0,5.4,5.8,6.2,6.6,7.0,7.4,7.8,8.2,8.6,9.0,9.4],"labelExpr":"replace(format(datum.value, '.1f'), '.', ',')","labelFontSize":8,"tickSize":3,"labelPadding":2,"domain":false,"title":null}},"y":{"field":"n","type":"quantitative","scale":{"domain":[0,129.6],"range":[677,537],"nice":false,"zero":false},"axis":{"orient":"left","offset":-132,"values":[0,10,20,30,40,50,60,70,80,90,100,110,120],"labelExpr":"datum.value % 20 == 0 ? datum.label : ''","labelFontSize":9,"tickSize":3,"labelPadding":2,"domain":false,"title":null}},"y2":{"datum":0}}},
  {"data":{"name":"ctrzask"},"mark":{"type":"line","interpolate":"monotone","color":"#111111","strokeWidth":1.3},"encoding":{"x":{"field":"lat","type":"quantitative","scale":{"domain":[4.92,9.9],"range":[132,310.6],"nice":false,"zero":false},"axis":{"orient":"bottom","offset":-729,"values":[5.0,5.4,5.8,6.2,6.6,7.0,7.4,7.8,8.2,8.6,9.0,9.4],"labelExpr":"replace(format(datum.value, '.1f'), '.', ',')","labelFontSize":8,"tickSize":3,"labelPadding":2,"domain":false,"title":null}},"y":{"field":"n","type":"quantitative","scale":{"domain":[0,129.6],"range":[677,537],"nice":false,"zero":false},"axis":{"orient":"left","offset":-132,"values":[0,10,20,30,40,50,60,70,80,90,100,110,120],"labelExpr":"datum.value % 20 == 0 ? datum.label : ''","labelFontSize":9,"tickSize":3,"labelPadding":2,"domain":false,"title":null}}}},
  {"data":{"values":[{}]},"mark":{"type":"rect","fill":"#ffffff","fillOpacity":0,"stroke":"#444444","strokeWidth":1},"encoding":{"x":{"datum":4.92,"type":"quantitative","scale":{"domain":[4.92,9.9],"range":[132,310.6],"nice":false,"zero":false},"axis":{"orient":"bottom","offset":-729,"values":[5.0,5.4,5.8,6.2,6.6,7.0,7.4,7.8,8.2,8.6,9.0,9.4],"labelExpr":"replace(format(datum.value, '.1f'), '.', ',')","labelFontSize":8,"tickSize":3,"labelPadding":2,"domain":false,"title":null}},"x2":{"datum":9.9},"y":{"datum":0,"type":"quantitative","scale":{"domain":[0,129.6],"range":[677,537],"nice":false,"zero":false},"axis":{"orient":"left","offset":-132,"values":[0,10,20,30,40,50,60,70,80,90,100,110,120],"labelExpr":"datum.value % 20 == 0 ? datum.label : ''","labelFontSize":9,"tickSize":3,"labelPadding":2,"domain":false,"title":null}},"y2":{"datum":129.6}}},
  {"data":{"values":[{}]},"mark":{"type":"rect","fill":"#ffffff","fillOpacity":0,"stroke":"#777777","strokeWidth":1},"encoding":{"x":{"datum":3.3,"type":"quantitative","scale":{"domain":[4.92,9.9],"range":[132,310.6],"nice":false,"zero":false},"axis":{"orient":"bottom","offset":-729,"values":[5.0,5.4,5.8,6.2,6.6,7.0,7.4,7.8,8.2,8.6,9.0,9.4],"labelExpr":"replace(format(datum.value, '.1f'), '.', ',')","labelFontSize":8,"tickSize":3,"labelPadding":2,"domain":false,"title":null}},"x2":{"datum":12.87},"y":{"datum":-33.3,"type":"quantitative","scale":{"domain":[0,129.6],"range":[677,537],"nice":false,"zero":false},"axis":{"orient":"left","offset":-132,"values":[0,10,20,30,40,50,60,70,80,90,100,110,120],"labelExpr":"datum.value % 20 == 0 ? datum.label : ''","labelFontSize":9,"tickSize":3,"labelPadding":2,"domain":false,"title":null}},"y2":{"datum":525}}},
  {"data":{"values":[{"label":"trzask"}]},"mark":{"type":"text","align":"right","baseline":"middle","fontSize":13},"encoding":{"x":{"datum":9.41,"type":"quantitative","scale":{"domain":[4.92,9.9],"range":[132,310.6],"nice":false,"zero":false},"axis":{"orient":"bottom","offset":-729,"values":[5.0,5.4,5.8,6.2,6.6,7.0,7.4,7.8,8.2,8.6,9.0,9.4],"labelExpr":"replace(format(datum.value, '.1f'), '.', ',')","labelFontSize":8,"tickSize":3,"labelPadding":2,"domain":false,"title":null}},"y":{"datum":112,"type":"quantitative","scale":{"domain":[0,129.6],"range":[677,537],"nice":false,"zero":false},"axis":{"orient":"left","offset":-132,"values":[0,10,20,30,40,50,60,70,80,90,100,110,120],"labelExpr":"datum.value % 20 == 0 ? datum.label : ''","labelFontSize":9,"tickSize":3,"labelPadding":2,"domain":false,"title":null}},"text":{"field":"label"}}},
  {"data":{"values":[{}]},"mark":{"type":"rule","color":"#222222","strokeWidth":1},"encoding":{"x":{"datum":8.24,"type":"quantitative","scale":{"domain":[4.92,9.9],"range":[132,310.6],"nice":false,"zero":false},"axis":{"orient":"bottom","offset":-729,"values":[5.0,5.4,5.8,6.2,6.6,7.0,7.4,7.8,8.2,8.6,9.0,9.4],"labelExpr":"replace(format(datum.value, '.1f'), '.', ',')","labelFontSize":8,"tickSize":3,"labelPadding":2,"domain":false,"title":null}},"x2":{"datum":8.42},"y":{"datum":16.7,"type":"quantitative","scale":{"domain":[0,129.6],"range":[677,537],"nice":false,"zero":false},"axis":{"orient":"left","offset":-132,"values":[0,10,20,30,40,50,60,70,80,90,100,110,120],"labelExpr":"datum.value % 20 == 0 ? datum.label : ''","labelFontSize":9,"tickSize":3,"labelPadding":2,"domain":false,"title":null}}}},
  {"data":{"values":[{"label":"Oczekiwana\nnormalna"}]},"mark":{"type":"text","align":"left","baseline":"middle","fontSize":4,"lineBreak":"\n","color":"#555555"},"encoding":{"x":{"datum":8.72,"type":"quantitative","scale":{"domain":[4.92,9.9],"range":[132,310.6],"nice":false,"zero":false},"axis":{"orient":"bottom","offset":-729,"values":[5.0,5.4,5.8,6.2,6.6,7.0,7.4,7.8,8.2,8.6,9.0,9.4],"labelExpr":"replace(format(datum.value, '.1f'), '.', ',')","labelFontSize":8,"tickSize":3,"labelPadding":2,"domain":false,"title":null}},"y":{"datum":16.7,"type":"quantitative","scale":{"domain":[0,129.6],"range":[677,537],"nice":false,"zero":false},"axis":{"orient":"left","offset":-132,"values":[0,10,20,30,40,50,60,70,80,90,100,110,120],"labelExpr":"datum.value % 20 == 0 ? datum.label : ''","labelFontSize":9,"tickSize":3,"labelPadding":2,"domain":false,"title":null}},"text":{"field":"label"}}},
  {"data":{"values":[{"label":"Latencja fali V [ms]"}]},"mark":{"type":"text","align":"center","baseline":"middle","fontSize":11.5,"fontWeight":"bold"},"encoding":{"x":{"datum":8.71,"type":"quantitative","scale":{"domain":[4.92,9.9],"range":[132,310.6],"nice":false,"zero":false},"axis":{"orient":"bottom","offset":-729,"values":[5.0,5.4,5.8,6.2,6.6,7.0,7.4,7.8,8.2,8.6,9.0,9.4],"labelExpr":"replace(format(datum.value, '.1f'), '.', ',')","labelFontSize":8,"tickSize":3,"labelPadding":2,"domain":false,"title":null}},"y":{"datum":-23,"type":"quantitative","scale":{"domain":[0,129.6],"range":[677,537],"nice":false,"zero":false},"axis":{"orient":"left","offset":-132,"values":[0,10,20,30,40,50,60,70,80,90,100,110,120],"labelExpr":"datum.value % 20 == 0 ? datum.label : ''","labelFontSize":9,"tickSize":3,"labelPadding":2,"domain":false,"title":null}},"text":{"field":"label"}}}
 ]},

{"data":{"name":"latency"},
 "encoding":{"x":{"field":"bodziec","type":"nominal","sort":null,"scale":{"type":"point","domain":["1000 Hz","2000 Hz","4000 Hz","trzask"],"range":[520,806.7],"padding":0.2545,"align":1},"axis":{"orient":"bottom","offset":-1015.3,"labelAngle":0,"labelFontSize":12,"tickSize":4,"labelPadding":5,"title":null}},
  "y":{"field":"mean","type":"quantitative","scale":{"domain":[4,10],"range":[390.7,163.3],"nice":false,"zero":false},"axis":{"orient":"left","offset":-520,"values":[4,5,6,7,8,9,10],"labelFontSize":12,"tickSize":4,"labelPadding":4,"title":null}}},
 "layer":[
  {"mark":{"type":"rule","color":"#222222","strokeWidth":1.3},"encoding":{"y":{"field":"lo"},"y2":{"field":"hi"}}},
  {"mark":{"type":"tick","orient":"horizontal","size":6,"thickness":1.5,"color":"#222222"},"encoding":{"y":{"field":"lo"}}},
  {"mark":{"type":"tick","orient":"horizontal","size":6,"thickness":1.5,"color":"#222222"},"encoding":{"y":{"field":"hi"}}},
  {"mark":{"type":"line","color":"#474747","strokeWidth":3.5}},
  {"mark":{"type":"point","shape":"circle","filled":true,"fill":"#ffffff","stroke":"#222222","strokeWidth":1.2,"size":22,"opacity":1}}
 ]},
{"layer":[
  {"data":{"values":[{}]},"mark":{"type":"rect","fill":"#ffffff","fillOpacity":0,"stroke":"#666666","strokeWidth":1},"encoding":{"x":{"datum":0,"type":"quantitative","scale":{"domain":[0,1],"range":[449.3,850],"nice":false,"zero":false},"axis":null},"x2":{"datum":1},"y":{"datum":0,"type":"quantitative","scale":{"domain":[0,1],"range":[425,111.7],"nice":false,"zero":false},"axis":null},"y2":{"datum":1}}},
  {"data":{"values":[{"t":"L"}]},"mark":{"type":"text","align":"left","baseline":"middle","fontSize":15},"encoding":{"x":{"datum":0.069,"type":"quantitative","axis":null},"y":{"datum":0.931,"type":"quantitative","axis":null},"text":{"field":"t"}}},
  {"data":{"values":[{"t":"V"}]},"mark":{"type":"text","align":"left","baseline":"middle","fontSize":8.5},"encoding":{"x":{"datum":0.0895,"type":"quantitative","axis":null},"y":{"datum":0.914,"type":"quantitative","axis":null},"text":{"field":"t"}}},
  {"data":{"values":[{"t":"[ms]"}]},"mark":{"type":"text","align":"left","baseline":"middle","fontSize":15},"encoding":{"x":{"datum":0.1153,"type":"quantitative","axis":null},"y":{"datum":0.931,"type":"quantitative","axis":null},"text":{"field":"t"}}}
 ]},
{"data":{"name":"table"},
 "encoding":{"x":{"field":"col","type":"nominal","sort":null,"scale":{"type":"band","domain":["c1","c2","c3"],"range":[448.3,849.3],"paddingInner":0,"paddingOuter":0},"axis":null},"y":{"field":"row","type":"ordinal","scale":{"type":"band","domain":[0,1,2,3,4],"range":[542.7,629.3],"paddingInner":0,"paddingOuter":0},"axis":null}},
 "layer":[
  {"mark":{"type":"rect","fill":"#ffffff","fillOpacity":0,"stroke":"#555555","strokeWidth":1}},
  {"transform":[{"filter":"datum.row == 0"}],"mark":{"type":"text","fontSize":12,"fontWeight":"bold","baseline":"middle"},"encoding":{"text":{"field":"text"}}},
  {"transform":[{"filter":"datum.row > 0"}],"mark":{"type":"text","fontSize":11.2,"baseline":"middle","color":"#333333"},"encoding":{"text":{"field":"text"}}}
 ]},

{"layer":[
  {"data":{"name":"s1000"},"mark":{"type":"square","size":8,"color":"#1e1e1e","opacity":1},"encoding":{"x":{"field":"age","type":"quantitative","scale":{"domain":[0,81],"range":[183.3,387.3],"nice":false,"zero":false},"axis":{"orient":"bottom","offset":-368.7,"values":[0,10,20,30,40,50,60,70,80],"labelFontSize":8.5,"ticks":false,"domain":false,"labelPadding":4,"title":null}},"y":{"field":"lat","type":"quantitative","scale":{"domain":[7.4,9.8],"range":[1037.3,908.3],"nice":false,"zero":false},"axis":{"orient":"left","offset":-183.3,"values":[7.4,7.8,8.2,8.6,9.0,9.4,9.8],"labelExpr":"replace(format(datum.value, '.1f'), '.', ',')","labelFontSize":8.5,"ticks":false,"domain":false,"labelPadding":5,"title":null}}}},
  {"data":{"name":"f1000"},"mark":{"type":"line","interpolate":"monotone","color":"#555555","strokeWidth":0.8},"encoding":{"detail":{"field":"band"},"x":{"field":"age","type":"quantitative","scale":{"domain":[0,81],"range":[183.3,387.3],"nice":false,"zero":false},"axis":{"orient":"bottom","offset":-368.7,"values":[0,10,20,30,40,50,60,70,80],"labelFontSize":8.5,"ticks":false,"domain":false,"labelPadding":4,"title":null}},"y":{"field":"lat","type":"quantitative","scale":{"domain":[7.4,9.8],"range":[1037.3,908.3],"nice":false,"zero":false},"axis":{"orient":"left","offset":-183.3,"values":[7.4,7.8,8.2,8.6,9.0,9.4,9.8],"labelExpr":"replace(format(datum.value, '.1f'), '.', ',')","labelFontSize":8.5,"ticks":false,"domain":false,"labelPadding":5,"title":null}}}},
  {"data":{"values":[{}]},"mark":{"type":"rect","fill":"#ffffff","fillOpacity":0,"stroke":"#777777","strokeWidth":1},"encoding":{"x":{"datum":0,"type":"quantitative","scale":{"domain":[0,81],"range":[183.3,387.3],"nice":false,"zero":false},"axis":{"orient":"bottom","offset":-368.7,"values":[0,10,20,30,40,50,60,70,80],"labelFontSize":8.5,"ticks":false,"domain":false,"labelPadding":4,"title":null}},"x2":{"datum":81},"y":{"datum":7.4,"type":"quantitative","scale":{"domain":[7.4,9.8],"range":[1037.3,908.3],"nice":false,"zero":false},"axis":{"orient":"left","offset":-183.3,"values":[7.4,7.8,8.2,8.6,9.0,9.4,9.8],"labelExpr":"replace(format(datum.value, '.1f'), '.', ',')","labelFontSize":8.5,"ticks":false,"domain":false,"labelPadding":5,"title":null}},"y2":{"datum":9.8}}},
  {"data":{"values":[{}]},"mark":{"type":"rect","fill":"#ffffff","fillOpacity":0,"stroke":"#777777","strokeWidth":1},"encoding":{"x":{"datum":-14,"type":"quantitative","scale":{"domain":[0,81],"range":[183.3,387.3],"nice":false,"zero":false},"axis":{"orient":"bottom","offset":-368.7,"values":[0,10,20,30,40,50,60,70,80],"labelFontSize":8.5,"ticks":false,"domain":false,"labelPadding":4,"title":null}},"x2":{"datum":284.6},"y":{"datum":3.07,"type":"quantitative","scale":{"domain":[7.4,9.8],"range":[1037.3,908.3],"nice":false,"zero":false},"axis":{"orient":"left","offset":-183.3,"values":[7.4,7.8,8.2,8.6,9.0,9.4,9.8],"labelExpr":"replace(format(datum.value, '.1f'), '.', ',')","labelFontSize":8.5,"ticks":false,"domain":false,"labelPadding":5,"title":null}},"y2":{"datum":10.327}}},
  {"data":{"values":[{"label":"1000 Hz"}]},"mark":{"type":"text","align":"left","baseline":"middle","fontSize":12.5,"fontWeight":"bold"},"encoding":{"x":{"datum":3.85,"type":"quantitative","scale":{"domain":[0,81],"range":[183.3,387.3],"nice":false,"zero":false},"axis":{"orient":"bottom","offset":-368.7,"values":[0,10,20,30,40,50,60,70,80],"labelFontSize":8.5,"ticks":false,"domain":false,"labelPadding":4,"title":null}},"y":{"datum":9.48,"type":"quantitative","scale":{"domain":[7.4,9.8],"range":[1037.3,908.3],"nice":false,"zero":false},"axis":{"orient":"left","offset":-183.3,"values":[7.4,7.8,8.2,8.6,9.0,9.4,9.8],"labelExpr":"replace(format(datum.value, '.1f'), '.', ',')","labelFontSize":8.5,"ticks":false,"domain":false,"labelPadding":5,"title":null}},"text":{"field":"label"}}},
  {"data":{"values":[{"t":"L"}]},"mark":{"type":"text","align":"left","baseline":"middle","fontSize":14},"encoding":{"x":{"datum":-8.58,"type":"quantitative","scale":{"domain":[0,81],"range":[183.3,387.3],"nice":false,"zero":false},"axis":{"orient":"bottom","offset":-368.7,"values":[0,10,20,30,40,50,60,70,80],"labelFontSize":8.5,"ticks":false,"domain":false,"labelPadding":4,"title":null}},"y":{"datum":10.178,"type":"quantitative","scale":{"domain":[7.4,9.8],"range":[1037.3,908.3],"nice":false,"zero":false},"axis":{"orient":"left","offset":-183.3,"values":[7.4,7.8,8.2,8.6,9.0,9.4,9.8],"labelExpr":"replace(format(datum.value, '.1f'), '.', ',')","labelFontSize":8.5,"ticks":false,"domain":false,"labelPadding":5,"title":null}},"text":{"field":"t"}}},
  {"data":{"values":[{"t":"V"}]},"mark":{"type":"text","align":"left","baseline":"middle","fontSize":8.5},"encoding":{"x":{"datum":-5.0,"type":"quantitative","scale":{"domain":[0,81],"range":[183.3,387.3],"nice":false,"zero":false},"axis":{"orient":"bottom","offset":-368.7,"values":[0,10,20,30,40,50,60,70,80],"labelFontSize":8.5,"ticks":false,"domain":false,"labelPadding":4,"title":null}},"y":{"datum":10.10,"type":"quantitative","scale":{"domain":[7.4,9.8],"range":[1037.3,908.3],"nice":false,"zero":false},"axis":{"orient":"left","offset":-183.3,"values":[7.4,7.8,8.2,8.6,9.0,9.4,9.8],"labelExpr":"replace(format(datum.value, '.1f'), '.', ',')","labelFontSize":8.5,"ticks":false,"domain":false,"labelPadding":5,"title":null}},"text":{"field":"t"}}},
  {"data":{"values":[{"t":"[ms]"}]},"mark":{"type":"text","align":"left","baseline":"middle","fontSize":14},"encoding":{"x":{"datum":-0.9,"type":"quantitative","scale":{"domain":[0,81],"range":[183.3,387.3],"nice":false,"zero":false},"axis":{"orient":"bottom","offset":-368.7,"values":[0,10,20,30,40,50,60,70,80],"labelFontSize":8.5,"ticks":false,"domain":false,"labelPadding":4,"title":null}},"y":{"datum":10.178,"type":"quantitative","scale":{"domain":[7.4,9.8],"range":[1037.3,908.3],"nice":false,"zero":false},"axis":{"orient":"left","offset":-183.3,"values":[7.4,7.8,8.2,8.6,9.0,9.4,9.8],"labelExpr":"replace(format(datum.value, '.1f'), '.', ',')","labelFontSize":8.5,"ticks":false,"domain":false,"labelPadding":5,"title":null}},"text":{"field":"t"}}}
 ]},

{"layer":[
  {"data":{"name":"s2000"},"mark":{"type":"square","size":8,"color":"#1e1e1e","opacity":1},"encoding":{"x":{"field":"age","type":"quantitative","scale":{"domain":[0,81],"range":[441.7,645.7],"nice":false,"zero":false},"axis":{"orient":"bottom","offset":-366.7,"values":[0,10,20,30,40,50,60,70,80],"labelFontSize":8.5,"ticks":false,"domain":false,"labelPadding":4,"title":null}},"y":{"field":"lat","type":"quantitative","scale":{"domain":[6.8,9.2],"range":[1039.3,910],"nice":false,"zero":false},"axis":{"orient":"left","offset":-441.7,"values":[6.8,7.2,7.6,8.0,8.4,8.8,9.2],"labelExpr":"replace(format(datum.value, '.1f'), '.', ',')","labelFontSize":8.5,"ticks":false,"domain":false,"labelPadding":5,"title":null}}}},
  {"data":{"name":"f2000"},"mark":{"type":"line","interpolate":"monotone","color":"#555555","strokeWidth":0.8},"encoding":{"detail":{"field":"band"},"x":{"field":"age","type":"quantitative","scale":{"domain":[0,81],"range":[441.7,645.7],"nice":false,"zero":false},"axis":{"orient":"bottom","offset":-366.7,"values":[0,10,20,30,40,50,60,70,80],"labelFontSize":8.5,"ticks":false,"domain":false,"labelPadding":4,"title":null}},"y":{"field":"lat","type":"quantitative","scale":{"domain":[6.8,9.2],"range":[1039.3,910],"nice":false,"zero":false},"axis":{"orient":"left","offset":-441.7,"values":[6.8,7.2,7.6,8.0,8.4,8.8,9.2],"labelExpr":"replace(format(datum.value, '.1f'), '.', ',')","labelFontSize":8.5,"ticks":false,"domain":false,"labelPadding":5,"title":null}}}},
  {"data":{"values":[{}]},"mark":{"type":"rect","fill":"#ffffff","fillOpacity":0,"stroke":"#777777","strokeWidth":1},"encoding":{"x":{"datum":0,"type":"quantitative","scale":{"domain":[0,81],"range":[441.7,645.7],"nice":false,"zero":false},"axis":{"orient":"bottom","offset":-366.7,"values":[0,10,20,30,40,50,60,70,80],"labelFontSize":8.5,"ticks":false,"domain":false,"labelPadding":4,"title":null}},"x2":{"datum":81},"y":{"datum":6.8,"type":"quantitative","scale":{"domain":[6.8,9.2],"range":[1039.3,910],"nice":false,"zero":false},"axis":{"orient":"left","offset":-441.7,"values":[6.8,7.2,7.6,8.0,8.4,8.8,9.2],"labelExpr":"replace(format(datum.value, '.1f'), '.', ',')","labelFontSize":8.5,"ticks":false,"domain":false,"labelPadding":5,"title":null}},"y2":{"datum":9.2}}},
  {"data":{"values":[{"label":"2000 Hz"}]},"mark":{"type":"text","align":"left","baseline":"middle","fontSize":12.5,"fontWeight":"bold"},"encoding":{"x":{"datum":5.3,"type":"quantitative","scale":{"domain":[0,81],"range":[441.7,645.7],"nice":false,"zero":false},"axis":{"orient":"bottom","offset":-366.7,"values":[0,10,20,30,40,50,60,70,80],"labelFontSize":8.5,"ticks":false,"domain":false,"labelPadding":4,"title":null}},"y":{"datum":8.87,"type":"quantitative","scale":{"domain":[6.8,9.2],"range":[1039.3,910],"nice":false,"zero":false},"axis":{"orient":"left","offset":-441.7,"values":[6.8,7.2,7.6,8.0,8.4,8.8,9.2],"labelExpr":"replace(format(datum.value, '.1f'), '.', ',')","labelFontSize":8.5,"ticks":false,"domain":false,"labelPadding":5,"title":null}},"text":{"field":"label"}}}
 ]},

{"layer":[
  {"data":{"name":"s4000"},"mark":{"type":"square","size":8,"color":"#1e1e1e","opacity":1},"encoding":{"x":{"field":"age","type":"quantitative","scale":{"domain":[0,81],"range":[180.7,384.2],"nice":false,"zero":false},"axis":{"orient":"bottom","offset":-184.3,"values":[0,10,20,30,40,50,60,70,80],"labelFontSize":8.5,"ticks":false,"domain":false,"labelPadding":4,"title":null}},"y":{"field":"lat","type":"quantitative","scale":{"domain":[6.0,8.4],"range":[1221.7,1092.7],"nice":false,"zero":false},"axis":{"orient":"left","offset":-180.7,"values":[6.0,6.4,6.8,7.2,7.6,8.0,8.4],"labelExpr":"replace(format(datum.value, '.1f'), '.', ',')","labelFontSize":8.5,"ticks":false,"domain":false,"labelPadding":5,"title":null}}}},
  {"data":{"name":"f4000"},"mark":{"type":"line","interpolate":"monotone","color":"#555555","strokeWidth":0.8},"encoding":{"detail":{"field":"band"},"x":{"field":"age","type":"quantitative","scale":{"domain":[0,81],"range":[180.7,384.2],"nice":false,"zero":false},"axis":{"orient":"bottom","offset":-184.3,"values":[0,10,20,30,40,50,60,70,80],"labelFontSize":8.5,"ticks":false,"domain":false,"labelPadding":4,"title":null}},"y":{"field":"lat","type":"quantitative","scale":{"domain":[6.0,8.4],"range":[1221.7,1092.7],"nice":false,"zero":false},"axis":{"orient":"left","offset":-180.7,"values":[6.0,6.4,6.8,7.2,7.6,8.0,8.4],"labelExpr":"replace(format(datum.value, '.1f'), '.', ',')","labelFontSize":8.5,"ticks":false,"domain":false,"labelPadding":5,"title":null}}}},
  {"data":{"values":[{}]},"mark":{"type":"rect","fill":"#ffffff","fillOpacity":0,"stroke":"#777777","strokeWidth":1},"encoding":{"x":{"datum":0,"type":"quantitative","scale":{"domain":[0,81],"range":[180.7,384.2],"nice":false,"zero":false},"axis":{"orient":"bottom","offset":-184.3,"values":[0,10,20,30,40,50,60,70,80],"labelFontSize":8.5,"ticks":false,"domain":false,"labelPadding":4,"title":null}},"x2":{"datum":81},"y":{"datum":6.0,"type":"quantitative","scale":{"domain":[6.0,8.4],"range":[1221.7,1092.7],"nice":false,"zero":false},"axis":{"orient":"left","offset":-180.7,"values":[6.0,6.4,6.8,7.2,7.6,8.0,8.4],"labelExpr":"replace(format(datum.value, '.1f'), '.', ',')","labelFontSize":8.5,"ticks":false,"domain":false,"labelPadding":5,"title":null}},"y2":{"datum":8.4}}},
  {"data":{"values":[{"label":"4000 Hz"}]},"mark":{"type":"text","align":"left","baseline":"middle","fontSize":12.5,"fontWeight":"bold"},"encoding":{"x":{"datum":4.9,"type":"quantitative","scale":{"domain":[0,81],"range":[180.7,384.2],"nice":false,"zero":false},"axis":{"orient":"bottom","offset":-184.3,"values":[0,10,20,30,40,50,60,70,80],"labelFontSize":8.5,"ticks":false,"domain":false,"labelPadding":4,"title":null}},"y":{"datum":8.065,"type":"quantitative","scale":{"domain":[6.0,8.4],"range":[1221.7,1092.7],"nice":false,"zero":false},"axis":{"orient":"left","offset":-180.7,"values":[6.0,6.4,6.8,7.2,7.6,8.0,8.4],"labelExpr":"replace(format(datum.value, '.1f'), '.', ',')","labelFontSize":8.5,"ticks":false,"domain":false,"labelPadding":5,"title":null}},"text":{"field":"label"}}}
 ]},

{"layer":[
  {"data":{"name":"strzask"},"mark":{"type":"square","size":8,"color":"#1e1e1e","opacity":1},"encoding":{"x":{"field":"age","type":"quantitative","scale":{"domain":[0,81],"range":[440,641.7],"nice":false,"zero":false},"axis":{"orient":"bottom","offset":-182,"values":[0,10,20,30,40,50,60,70,80],"labelFontSize":8.5,"ticks":false,"domain":false,"labelPadding":4,"title":null}},"y":{"field":"lat","type":"quantitative","scale":{"domain":[4.8,7.2],"range":[1224,1094.3],"nice":false,"zero":false},"axis":{"orient":"left","offset":-440,"values":[4.8,5.2,5.6,6.0,6.4,6.8,7.2],"labelExpr":"replace(format(datum.value, '.1f'), '.', ',')","labelFontSize":8.5,"ticks":false,"domain":false,"labelPadding":5,"title":null}}}},
  {"data":{"name":"ftrzask"},"mark":{"type":"line","interpolate":"monotone","color":"#555555","strokeWidth":0.8},"encoding":{"detail":{"field":"band"},"x":{"field":"age","type":"quantitative","scale":{"domain":[0,81],"range":[440,641.7],"nice":false,"zero":false},"axis":{"orient":"bottom","offset":-182,"values":[0,10,20,30,40,50,60,70,80],"labelFontSize":8.5,"ticks":false,"domain":false,"labelPadding":4,"title":null}},"y":{"field":"lat","type":"quantitative","scale":{"domain":[4.8,7.2],"range":[1224,1094.3],"nice":false,"zero":false},"axis":{"orient":"left","offset":-440,"values":[4.8,5.2,5.6,6.0,6.4,6.8,7.2],"labelExpr":"replace(format(datum.value, '.1f'), '.', ',')","labelFontSize":8.5,"ticks":false,"domain":false,"labelPadding":5,"title":null}}}},
  {"data":{"values":[{}]},"mark":{"type":"rect","fill":"#ffffff","fillOpacity":0,"stroke":"#777777","strokeWidth":1},"encoding":{"x":{"datum":0,"type":"quantitative","scale":{"domain":[0,81],"range":[440,641.7],"nice":false,"zero":false},"axis":{"orient":"bottom","offset":-182,"values":[0,10,20,30,40,50,60,70,80],"labelFontSize":8.5,"ticks":false,"domain":false,"labelPadding":4,"title":null}},"x2":{"datum":81},"y":{"datum":4.8,"type":"quantitative","scale":{"domain":[4.8,7.2],"range":[1224,1094.3],"nice":false,"zero":false},"axis":{"orient":"left","offset":-440,"values":[4.8,5.2,5.6,6.0,6.4,6.8,7.2],"labelExpr":"replace(format(datum.value, '.1f'), '.', ',')","labelFontSize":8.5,"ticks":false,"domain":false,"labelPadding":5,"title":null}},"y2":{"datum":7.2}}},
  {"data":{"values":[{"label":"trzask"}]},"mark":{"type":"text","align":"left","baseline":"middle","fontSize":12.5,"fontWeight":"bold"},"encoding":{"x":{"datum":5.2,"type":"quantitative","scale":{"domain":[0,81],"range":[440,641.7],"nice":false,"zero":false},"axis":{"orient":"bottom","offset":-182,"values":[0,10,20,30,40,50,60,70,80],"labelFontSize":8.5,"ticks":false,"domain":false,"labelPadding":4,"title":null}},"y":{"datum":6.87,"type":"quantitative","scale":{"domain":[4.8,7.2],"range":[1224,1094.3],"nice":false,"zero":false},"axis":{"orient":"left","offset":-440,"values":[4.8,5.2,5.6,6.0,6.4,6.8,7.2],"labelExpr":"replace(format(datum.value, '.1f'), '.', ',')","labelFontSize":8.5,"ticks":false,"domain":false,"labelPadding":5,"title":null}},"text":{"field":"label"}}},
  {"data":{"values":[{"label":"Wiek w latach"}]},"mark":{"type":"text","align":"right","baseline":"middle","fontSize":13,"fontWeight":"bold"},"encoding":{"x":{"datum":82.3,"type":"quantitative","scale":{"domain":[0,81],"range":[440,641.7],"nice":false,"zero":false},"axis":{"orient":"bottom","offset":-182,"values":[0,10,20,30,40,50,60,70,80],"labelFontSize":8.5,"ticks":false,"domain":false,"labelPadding":4,"title":null}},"y":{"datum":4.27,"type":"quantitative","scale":{"domain":[4.8,7.2],"range":[1224,1094.3],"nice":false,"zero":false},"axis":{"orient":"left","offset":-440,"values":[4.8,5.2,5.6,6.0,6.4,6.8,7.2],"labelExpr":"replace(format(datum.value, '.1f'), '.', ',')","labelFontSize":8.5,"ticks":false,"domain":false,"labelPadding":5,"title":null}},"text":{"field":"label"}}}
 ]},

{"data":{"name":"text"},"transform":[{"filter":"datum.block == 'cap2'"}],"mark":{"type":"text","align":"left","baseline":"middle","fontSize":13.1},"encoding":{"x":{"field":"block","type":"nominal","scale":{"type":"point","range":[12,12]},"axis":null},"y":{"field":"line","type":"ordinal","scale":{"type":"point","range":[737,754],"padding":0},"axis":null},"text":{"field":"text"}}},
{"data":{"name":"text"},"transform":[{"filter":"datum.block == 'paraL'"}],"mark":{"type":"text","align":"left","baseline":"middle","fontSize":14.4},"encoding":{"x":{"field":"block","type":"nominal","scale":{"type":"point","range":[12,12]},"axis":null},"y":{"field":"line","type":"ordinal","scale":{"type":"point","range":[788,853],"padding":0},"axis":null},"text":{"field":"text"}}},
{"data":{"name":"text"},"transform":[{"filter":"datum.block == 'cap3'"}],"mark":{"type":"text","align":"left","baseline":"middle","fontSize":13},"encoding":{"x":{"field":"block","type":"nominal","scale":{"type":"point","range":[448,448]},"axis":null},"y":{"field":"line","type":"ordinal","scale":{"type":"point","range":[442,460],"padding":0},"axis":null},"text":{"field":"text"}}},
{"data":{"name":"text"},"transform":[{"filter":"datum.block == 'tab2'"}],"mark":{"type":"text","align":"left","baseline":"middle","fontSize":13},"encoding":{"x":{"field":"block","type":"nominal","scale":{"type":"point","range":[448,448]},"axis":null},"y":{"field":"line","type":"ordinal","scale":{"type":"point","range":[502,520],"padding":0},"axis":null},"text":{"field":"text"}}},
{"data":{"name":"text"},"transform":[{"filter":"datum.block == 'paraR'"}],"mark":{"type":"text","align":"left","baseline":"middle","fontSize":14.5},"encoding":{"x":{"field":"block","type":"nominal","scale":{"type":"point","range":[448,448]},"axis":null},"y":{"field":"line","type":"ordinal","scale":{"type":"point","range":[657,846],"padding":0},"axis":null},"text":{"field":"text"}}},
{"data":{"name":"text"},"transform":[{"filter":"datum.block == 'cap4'"}],"mark":{"type":"text","align":"left","baseline":"middle","fontSize":13.3},"encoding":{"x":{"field":"block","type":"nominal","scale":{"type":"point","range":[12,12]},"axis":null},"y":{"field":"line","type":"ordinal","scale":{"type":"point","range":[1290,1290],"padding":0},"axis":null},"text":{"field":"text"}}}
]
}
